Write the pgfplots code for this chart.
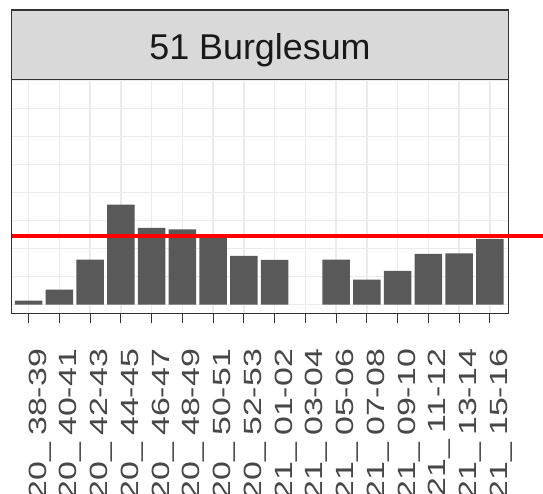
\documentclass[border=0pt]{standalone}
\usepackage{fontspec}
\setmainfont{Liberation Sans}
\newfontfamily\tickfont[FakeStretch=1.36]{Liberation Sans}
\usepackage{pgfplots}
\pgfplotsset{compat=1.18}

\definecolor{barfill}{HTML}{595959}
\definecolor{gridc}{HTML}{EBEBEB}
\definecolor{framec}{HTML}{333333}
\definecolor{stripc}{HTML}{D9D9D9}
\definecolor{labc}{HTML}{474747}
\newcommand\us{\_\kern0.28em}

\begin{document}
\begin{tikzpicture}
\path[use as bounding box] (0,0) rectangle (543bp,494bp);
\clip (0,0) rectangle (543bp,494bp);
\begin{axis}[
    at={(11.7bp,180.7bp)}, anchor=south west,
    scale only axis, width=496.6bp, height=234bp,
    xmin=-0.55, xmax=15.6, ymin=-0.31, ymax=8.05,
    clip=false,
    axis line style={framec, line width=1.3bp},
    xtick={0,...,15},
    xticklabels={2020\us38-39, 2020\us40-41, 2020\us42-43, 2020\us44-45,
                 2020\us46-47, 2020\us48-49, 2020\us50-51, 2020\us52-53,
                 2021\us01-02, 2021\us03-04, 2021\us05-06, 2021\us07-08,
                 2021\us09-10, 2021\us11-12, 2021\us13-14, 2021\us15-16},
    xticklabel style={font=\tickfont\fontsize{25}{25}\selectfont, text=labc,
                      yshift=-25.5bp, rotate=90, anchor=north east, inner sep=0pt},
    ytick={0,...,8}, yticklabels={},
    ytick style={draw=none},
    xtick style={framec, line width=1.2bp},
    tick align=outside, xtick pos=bottom,
    major tick length=10bp,
    grid=major,
    major grid style={gridc, line width=1.6bp},
  ]
  % weekly counts (no value for 2021_03-04)
  \addplot[ybar, bar width=0.9, fill=barfill, draw=none] coordinates {
    (0,0.14) (1,0.54) (2,1.61) (3,3.57) (4,2.74) (5,2.69) (6,2.47) (7,1.74)
    (8,1.60) (10,1.61) (11,0.89) (12,1.21) (13,1.81) (14,1.83) (15,2.35)
  };
  % reference line
  \addplot[red, line width=4bp, no marks] coordinates {(-0.55,2.46) (17,2.46)};
  % facet strip
  \draw[framec, line width=1.3bp, fill=stripc]
    (rel axis cs:0,1) rectangle ([yshift=69.3bp]rel axis cs:1,1);
  \node[font=\fontsize{36}{40}\selectfont, text=black!90, anchor=base]
    at ([yshift=20bp]rel axis cs:0.5,1) {51 Burglesum};
\end{axis}
\end{tikzpicture}
\end{document}
